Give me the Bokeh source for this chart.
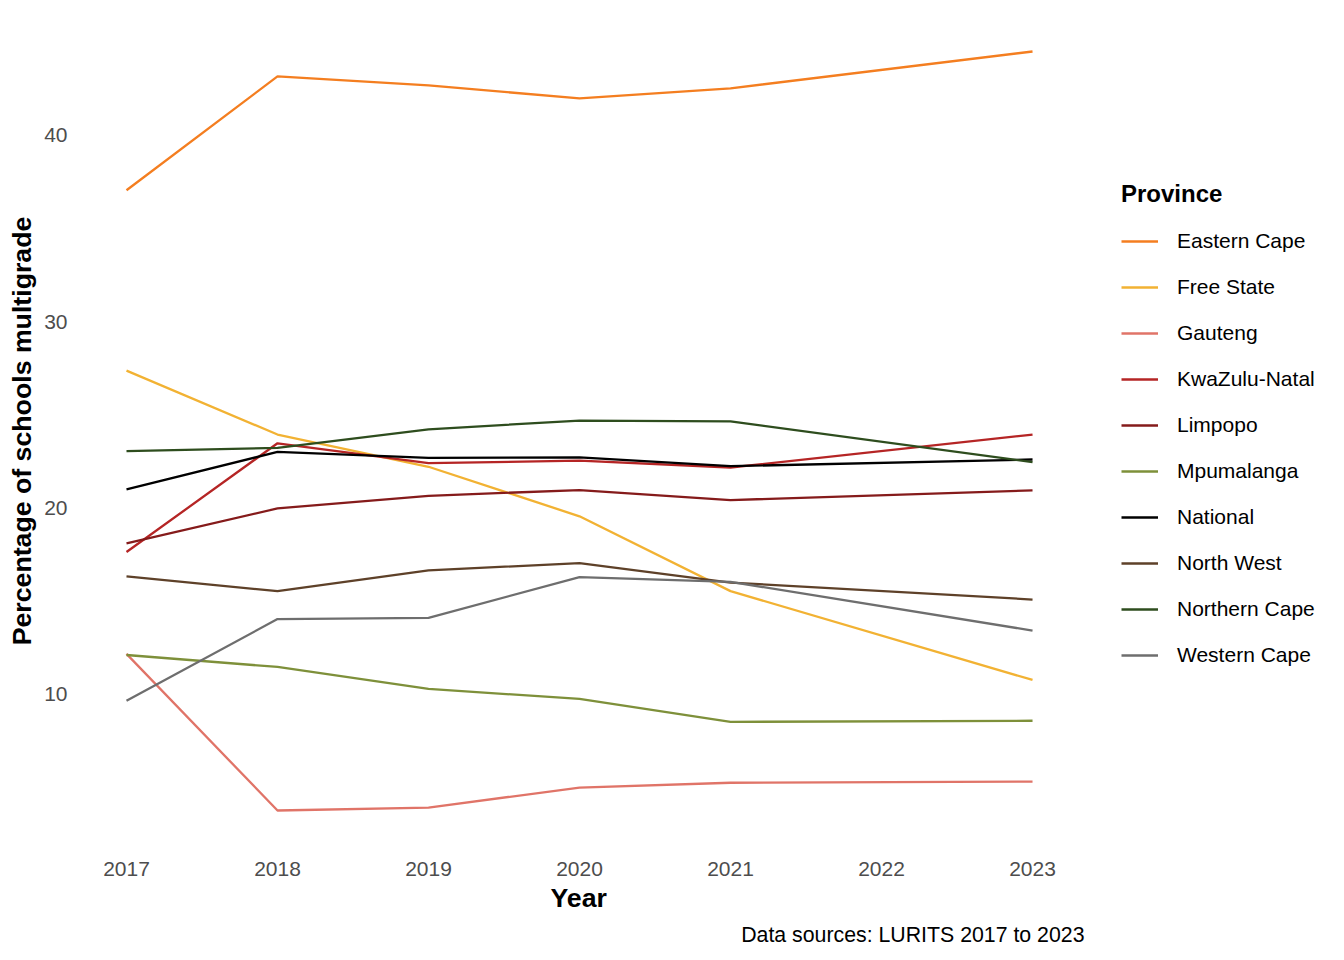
from bokeh.plotting import figure
from bokeh.models import Range1d, FixedTicker, Legend, LegendItem, Title
from bokeh.embed import file_html
from bokeh.resources import INLINE

years = [2017, 2018, 2019, 2020, 2021, 2023]
tick_years = [2017, 2018, 2019, 2020, 2021, 2022, 2023]
y_ticks = [10, 20, 30, 40]

provinces = ["Eastern Cape", "Free State", "Gauteng", "KwaZulu-Natal", "Limpopo",
             "Mpumalanga", "National", "North West", "Northern Cape", "Western Cape"]

eastern_cape = [37.05, 43.16, 42.68, 41.98, 42.52, 44.50]
free_state = [27.36, 23.93, 22.20, 19.54, 15.52, 10.75]
gauteng = [12.15, 3.74, 3.90, 4.97, 5.23, 5.29]
kwazulu_natal = [17.62, 23.46, 22.39, 22.53, 22.16, 23.93]
limpopo = [18.09, 19.96, 20.64, 20.95, 20.41, 20.93]
mpumalanga = [12.09, 11.45, 10.27, 9.73, 8.50, 8.56]
national = [20.98, 23.00, 22.68, 22.70, 22.23, 22.59]
north_west = [16.31, 15.52, 16.64, 17.02, 15.98, 15.07]
northern_cape = [23.04, 23.21, 24.21, 24.68, 24.64, 22.45]
western_cape = [9.63, 14.02, 14.09, 16.27, 16.02, 13.40]

series = [eastern_cape, free_state, gauteng, kwazulu_natal, limpopo,
          mpumalanga, national, north_west, northern_cape, western_cape]
colors = ["#F47E20", "#F2B233", "#E07468", "#B52525", "#851B1B",
          "#7E903A", "#000000", "#5E4129", "#2E4D1E", "#6E6E6E"]

FONT = "Liberation Sans"

# frame spans the legend area too; x range chosen so the data part matches the reference
p = figure(width=1328, height=952, output_backend="svg", toolbar_location=None,
           x_range=Range1d(2016.702, 2024.960), y_range=Range1d(1.70, 46.54))
p.min_border_left = 81
p.min_border_right = 0
p.min_border_top = 13
p.min_border_bottom = 102
p.outline_line_color = None
p.background_fill_color = "white"
p.border_fill_color = "white"
p.xgrid.grid_line_color = None
p.ygrid.grid_line_color = None

items = []
for name, vals, col in zip(provinces, series, colors):
    r = p.line(years, vals, line_color=col, line_width=2.3)
    items.append(LegendItem(label=name, renderers=[r]))

for ax in (p.xaxis[0], p.yaxis[0]):
    ax.axis_line_color = None
    ax.major_tick_line_color = None
    ax.minor_tick_line_color = None
    ax.major_tick_out = 0
    ax.major_tick_in = 0
    ax.minor_tick_out = 0
    ax.minor_tick_in = 0
    ax.major_label_text_font = FONT
    ax.major_label_text_font_size = "21px"
    ax.major_label_text_color = "#4D4D4D"
    ax.axis_label_text_font = FONT
    ax.axis_label_text_font_size = "26.7px"
    ax.axis_label_text_font_style = "bold"
    ax.axis_label_text_color = "#000000"

p.xaxis.ticker = FixedTicker(ticks=tick_years)
p.yaxis.ticker = FixedTicker(ticks=y_ticks)
p.yaxis.axis_label = "Percentage of schools multigrade"
p.xaxis.major_label_standoff = 13
p.yaxis.major_label_standoff = 14
p.yaxis.axis_label_standoff = 4

legend = Legend(items=items, title="Province", location=(1040, 170))
legend.title_text_font = FONT
legend.title_text_font_size = "24px"
legend.title_text_font_style = "bold"
legend.title_text_color = "#000000"
legend.title_standoff = 10
legend.label_text_font = FONT
legend.label_text_font_size = "21px"
legend.label_text_color = "#000000"
legend.glyph_width = 37
legend.glyph_height = 46
legend.label_height = 46
legend.spacing = 0
legend.label_standoff = 19
legend.padding = 0
legend.margin = 0
legend.border_line_color = None
legend.background_fill_alpha = 0
p.add_layout(legend, "center")

xtitle = Title(text="Year", align="left", text_font=FONT, text_font_size="26.7px",
               text_font_style="bold", text_color="#000000", offset=469, standoff=5)
p.add_layout(xtitle, "below")

cap = Title(text="Data sources: LURITS 2017 to 2023", align="right",
            text_font=FONT, text_font_size="21.3px", text_font_style="normal",
            text_color="#000000", offset=244, standoff=11)
p.add_layout(cap, "below")

open("out.html", "w").write(file_html(p, INLINE))
